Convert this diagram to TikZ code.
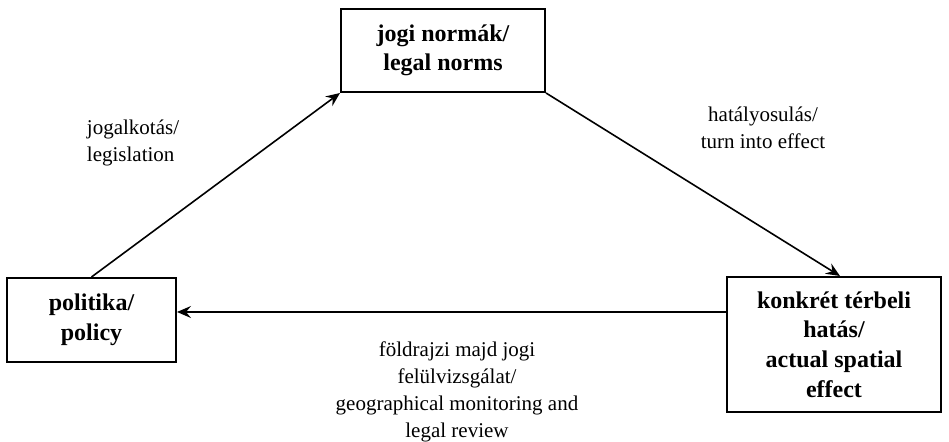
\documentclass[tikz,border=0pt]{standalone}
\usepackage{fontspec}
\setmainfont{Liberation Serif}
\usetikzlibrary{arrows.meta}
\begin{document}
\begin{tikzpicture}[x=0.5pt,y=-0.5pt,
  box/.style={draw, line width=1pt, inner sep=0pt, font=\fontsize{12}{14.8}\selectfont\bfseries, align=center},
  lbl/.style={inner sep=0pt, font=\fontsize{10.5}{13.5}\selectfont},
  arr/.style={line width=0.8pt, -{Stealth[length=7pt,width=6pt,inset=2.5pt]}}]
\useasboundingbox (0,0) rectangle (949,442);
\node[box, minimum width=102pt, minimum height=41.5pt] (norms) at (443,50.5) {jogi normák/\\legal norms};
\node[box, minimum width=84.5pt, minimum height=42pt] (policy) at (91.5,320) {politika/\\policy};
\node[box, minimum width=107pt, minimum height=67.5pt] (effect) at (834,344.5) {konkrét térbeli\\hatás/\\actual spatial\\effect};
\coordinate (ay) at (0,312);
\draw[arr] (policy.north) -- (norms.south west);
\draw[arr] (norms.south east) -- ([xshift=3pt]effect.north);
\draw[arr] (effect.west |- ay) -- (policy.east |- ay);
\node[lbl, align=left] (l1) at (133,143) {jogalkotás/\\legislation};
\node[lbl, align=center] (l2) at (763,128) {hatályosulás/\\turn into effect};
\node[lbl, align=center] (l3) at (457,392) {földrajzi majd jogi\\felülvizsgálat/\\geographical monitoring and\\legal review};
\end{tikzpicture}
\end{document}
